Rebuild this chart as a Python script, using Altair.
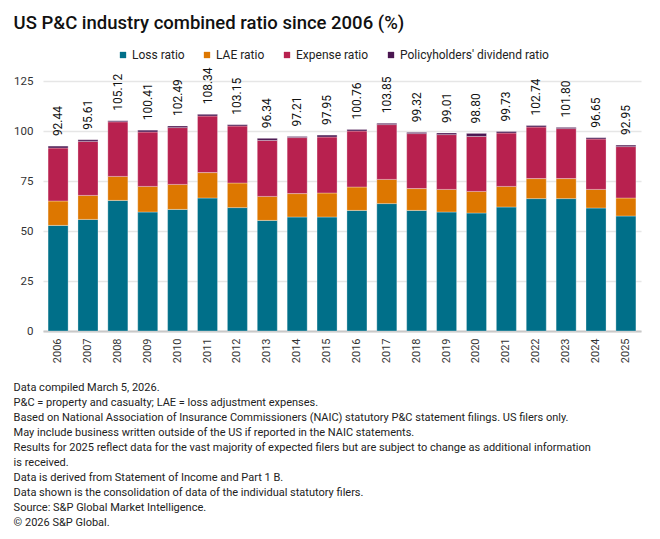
import altair as alt
import pandas as pd

years = [str(y) for y in range(2006, 2026)]
loss = [52.8, 55.8, 65.3, 59.5, 60.8, 66.5, 61.7, 55.3, 57.0, 57.0,
        60.3, 63.7, 60.3, 59.5, 59.0, 62.0, 66.2, 66.2, 61.5, 57.5]
lae = [12.2, 12.0, 12.0, 12.8, 12.5, 12.7, 12.3, 12.0, 11.7, 12.0,
       11.7, 12.1, 10.9, 11.3, 10.8, 10.3, 10.0, 10.0, 9.3, 9.0]
expense = [26.5, 27.0, 27.3, 27.2, 28.4, 28.3, 28.5, 28.0, 28.0, 28.0,
           28.0, 27.4, 27.5, 27.4, 27.5, 26.7, 25.8, 25.0, 25.2, 25.7]
dividend = [0.94, 0.81, 0.52, 0.91, 0.79, 0.84, 0.65, 1.04, 0.51, 0.95,
            0.76, 0.65, 0.62, 0.81, 1.50, 0.73, 0.74, 0.60, 0.65, 0.75]
totals = [92.44, 95.61, 105.12, 100.41, 102.49, 108.34, 103.15, 96.34, 97.21, 97.95,
          100.76, 103.85, 99.32, 99.01, 98.80, 99.73, 102.74, 101.80, 96.65, 92.95]
series_names = ["Loss ratio", "LAE ratio", "Expense ratio", "Policyholders' dividend ratio"]
colors = ["#006f89", "#dd7700", "#b8214f", "#4a1650"]
y_ticks = [0, 25, 50, 75, 100, 125]
footnotes = [
    "Data compiled March 5, 2026.",
    "P&C = property and casualty; LAE = loss adjustment expenses.",
    "Based on National Association of Insurance Commissioners (NAIC) statutory P&C statement filings. US filers only.",
    "May include business written outside of the US if reported in the NAIC statements.",
    "Results for 2025 reflect data for the vast majority of expected filers but are subject to change as additional information",
    "is received.",
    "Data is derived from Statement of Income and Part 1 B.",
    "Data shown is the consolidation of data of the individual statutory filers.",
    "Source: S&P Global Market Intelligence.",
    "\u00a9 2026 S&P Global.",
]

FONT = "Roboto"

rows = []
for i, yr in enumerate(years):
    for k, (name, vals) in enumerate(zip(series_names, [loss, lae, expense, dividend])):
        rows.append({"year": yr, "series": name, "value": vals[i], "order": k})
df = pd.DataFrame(rows)
tot = pd.DataFrame({"year": years, "total": totals})

x_enc = alt.X(
    "year:N",
    title=None,
    scale=alt.Scale(paddingInner=0.33, paddingOuter=0.17),
    axis=alt.Axis(labelAngle=270, labelPadding=7, labelFontSize=11, labelColor="#333333",
                  ticks=False, domain=True, domainColor="#c8c8c8", domainWidth=2, grid=False,
                  labelFont=FONT),
)

bars = alt.Chart(df).mark_bar(stroke="white", strokeWidth=0.5, strokeOpacity=0.6).encode(
    x=x_enc,
    y=alt.Y("value:Q", stack="zero", title=None,
            scale=alt.Scale(domain=[0, 125], nice=False),
            axis=alt.Axis(values=y_ticks, domain=False, ticks=False, grid=True,
                          gridColor="#e6e6e6", gridWidth=1.5, labelPadding=10,
                          labelFontSize=11.5, labelColor="#333333", labelFont=FONT)),
    color=alt.Color("series:N", title=None,
                    scale=alt.Scale(domain=series_names, range=colors),
                    legend=alt.Legend(orient="none", direction="horizontal", legendX=74, legendY=-32,
                                      symbolType="square", symbolSize=40, symbolStrokeWidth=0,
                                      labelFontSize=12, labelFont=FONT, labelColor="#222222",
                                      columnPadding=16, labelOffset=3, padding=0)),
    order=alt.Order("order:Q", sort="ascending"),
)

labels = alt.Chart(tot).mark_text(angle=270, align="left", baseline="middle", dx=10,
                                  fontSize=12, font=FONT, color="#111111").encode(
    x=alt.X("year:N"),
    y=alt.Y("total:Q"),
    text=alt.Text("total:Q", format=".2f"),
)

inner = alt.layer(bars, labels).properties(
    width=598, height=250,
    title=alt.TitleParams("US P&C industry combined ratio since 2006 (%)", anchor="start",
                          fontSize=18.5, font=FONT, fontWeight=500, color="#111111", offset=35),
)

chart = alt.vconcat(inner).properties(
    title=alt.TitleParams(footnotes, orient="bottom", anchor="start", fontSize=11, font=FONT,
                          fontWeight="normal", color="#222222", lineHeight=15, offset=19),
    padding={"left": 5, "top": 5, "right": 5, "bottom": 5},
).configure_view(stroke=None)

chart.save("out.html", embed_options={"renderer": "svg", "actions": False})
